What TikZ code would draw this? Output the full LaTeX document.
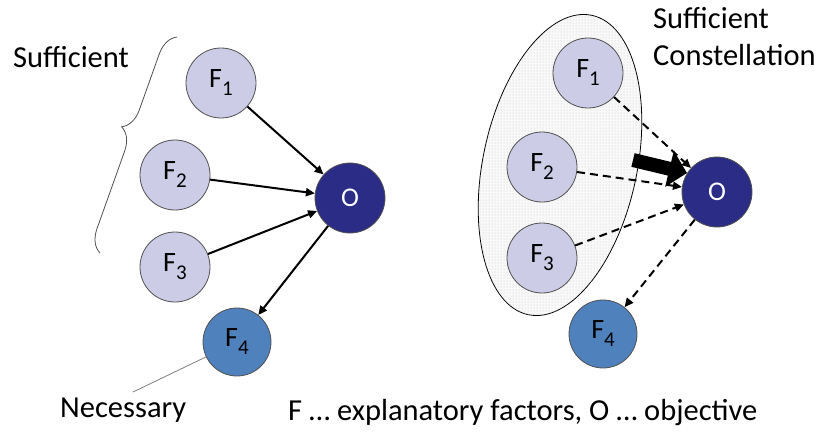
\documentclass[tikz,border=0pt]{standalone}
\usepackage{fontspec}
\setmainfont{Carlito}
\usetikzlibrary{arrows.meta,shapes.geometric,patterns,decorations.pathreplacing}
\definecolor{lav}{HTML}{CCCCE6}
\definecolor{navy}{HTML}{2A2C86}
\definecolor{fblue}{HTML}{4F81BD}
\definecolor{edge}{HTML}{505050}
\newcommand{\FF}[1]{F\raisebox{-8pt}{\fontsize{21}{21}\selectfont #1}}
\tikzset{
  fac/.style={circle, draw=edge, line width=0.8pt, fill=lav, minimum size=70pt, inner sep=0pt, font=\fontsize{28}{28}\selectfont},
  obj/.style={circle, draw=edge, line width=0.8pt, fill=navy, minimum size=70pt, inner sep=0pt, text=white, font=\fontsize{27}{27}\selectfont},
  nec/.style={circle, draw=edge, line width=0.8pt, fill=fblue, minimum size=68pt, inner sep=0pt, font=\fontsize{28}{28}\selectfont},
  solidarr/.style={line width=2pt, -{Triangle[length=9pt,width=8pt]}},
  dasharr/.style={line width=2pt, dash pattern=on 8pt off 5pt, -{Triangle[length=9pt,width=8pt]}},
  lbl/.style={font=\fontsize{30.5}{37}\selectfont, inner sep=0pt},
}
\begin{document}
\begin{tikzpicture}[x=1pt,y=1pt]
\useasboundingbox (0,0) rectangle (821,440);
% left diagram
\node[fac] (lf1) at (221,357) {\FF{1}};
\node[fac] (lf2) at (175,265) {\FF{2}};
\node[fac] (lf3) at (175,173) {\FF{3}};
\node[obj] (lo) at (350,242) {O};
\node[nec] (lf4) at (237,98) {\FF{4}};
\draw[solidarr] (lf1) -- (lo);
\draw[solidarr] (lf2) -- (lo);
\draw[solidarr] (lf3) -- (lo);
\draw[solidarr] (lo) -- (lf4);
\coordinate (bb) at (100,187);
\coordinate (bt) at (177,403);
\draw[line width=0.8pt, edge, decorate, decoration={brace, amplitude=22pt, aspect=0.55}] (bb) -- (bt);
\node[lbl, anchor=base west] (suf) at (13,372) {Sufficient};
\coordinate (necend) at (133,48);
\draw[gray, line width=0.8pt] (lf4) -- (necend);
\node[lbl, anchor=base west] (necl) at (60,23) {Necessary};
% right diagram
\node[ellipse, draw=black, line width=0.8pt, fill=gray!5, minimum width=154pt, minimum height=306pt, inner sep=0pt, rotate=-12,
  postaction={pattern=dots, pattern color=gray!45}] (grp) at (560,275) {};
\node[fac] (rf1) at (588,367) {\FF{1}};
\node[fac] (rf2) at (542,273) {\FF{2}};
\node[fac] (rf3) at (542,182) {\FF{3}};
\node[obj] (ro) at (717,248) {O};
\node[nec] (rf4) at (603,106) {\FF{4}};
\draw[dasharr] (rf1) -- (ro);
\draw[dasharr] (rf2) -- (ro);
\draw[dasharr] (rf3) -- (ro);
\draw[dasharr] (ro) -- (rf4);
\coordinate (ts) at (633,280);
\coordinate (te) at (687,267);
\draw[line width=14pt, -{Triangle[length=18pt,width=36pt]}] (ts) -- (te);
\node[lbl, anchor=north west, align=left] (sc) at (653,433) {Sufficient\\Constellation};
\node[lbl, anchor=base west] (leg) at (288,20) {F … explanatory factors, O … objective};
\end{tikzpicture}
\end{document}
